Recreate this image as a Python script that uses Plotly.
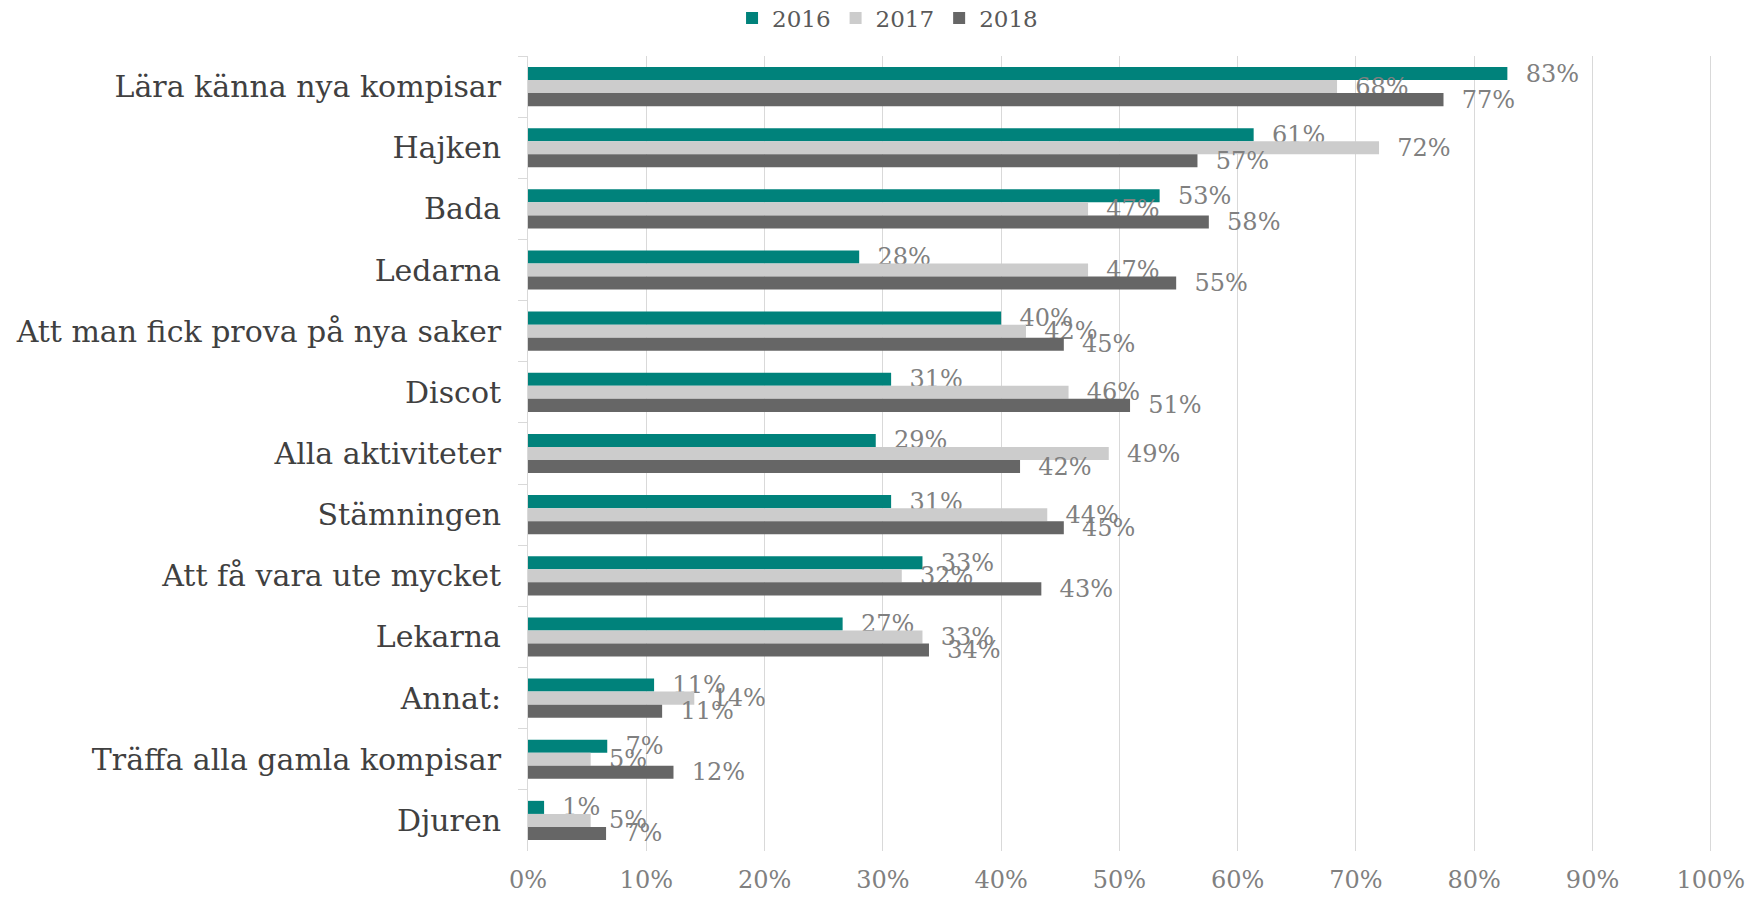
import plotly.graph_objects as go

categories = [
    "Lära känna nya kompisar",
    "Hajken",
    "Bada",
    "Ledarna",
    "Att man fick prova på nya saker",
    "Discot",
    "Alla aktiviteter",
    "Stämningen",
    "Att få vara ute mycket",
    "Lekarna",
    "Annat:",
    "Träffa alla gamla kompisar",
    "Djuren",
]

years = ["2016", "2017", "2018"]
v2016 = [0.828, 0.6135, 0.534, 0.280, 0.400, 0.307, 0.294, 0.307, 0.3335, 0.266, 0.1066, 0.067, 0.0136]
v2017 = [0.684, 0.7195, 0.4735, 0.4735, 0.421, 0.457, 0.491, 0.439, 0.316, 0.3335, 0.1406, 0.053, 0.053]
v2018 = [0.774, 0.566, 0.5756, 0.548, 0.453, 0.509, 0.416, 0.453, 0.434, 0.339, 0.1134, 0.123, 0.066]
series = [v2016, v2017, v2018]
colors = ["#00827B", "#CCCCCC", "#666666"]

x_ticks = [i / 10 for i in range(11)]

fig = go.Figure()
for name, vals, col in zip(years, series, colors):
    fig.add_trace(go.Bar(
        name=name,
        y=categories,
        x=vals,
        orientation="h",
        marker=dict(color=col, line=dict(width=0)),
        texttemplate="\u00a0\u00a0%{x:.0%}",
        textposition="outside",
        textfont=dict(family="DejaVu Serif", size=24, color="#808080"),
        constraintext="none",
        cliponaxis=False,
        hoverinfo="skip",
    ))

fig.update_layout(
    template="none",
    width=1761,
    height=898,
    margin=dict(l=528, r=49, t=56, b=47, autoexpand=False),
    paper_bgcolor="white",
    plot_bgcolor="white",
    barmode="group",
    bargap=0.36,
    bargroupgap=0,
    showlegend=True,
    legend=dict(
        orientation="h",
        xref="container", yref="container",
        x=0.504, xanchor="center",
        y=1 - 18 / 898, yanchor="middle",
        font=dict(family="DejaVu Serif", size=23, color="#595959"),
        itemwidth=30,
        traceorder="normal",
        bgcolor="rgba(0,0,0,0)",
    ),
    xaxis=dict(
        range=[0, 1.001],
        tickvals=x_ticks,
        tickformat=".0%",
        showgrid=True,
        gridcolor="#D9D9D9",
        gridwidth=1,
        zeroline=False,
        showline=False,
        ticks="outside",
        ticklen=7,
        tickcolor="rgba(0,0,0,0)",
        tickfont=dict(family="DejaVu Serif", size=24, color="#808080"),
        automargin=False,
    ),
    yaxis=dict(
        type="category",
        autorange="reversed",
        tickson="boundaries",
        ticks="outside",
        ticklen=9,
        tickcolor="#D9D9D9",
        showline=True,
        linecolor="#D9D9D9",
        linewidth=1,
        showgrid=False,
        zeroline=False,
        tickfont=dict(family="DejaVu Serif", size=30, color="#404040"),
        ticklabelstandoff=20,
        automargin=False,
    ),
)

fig.write_html("out.html")
